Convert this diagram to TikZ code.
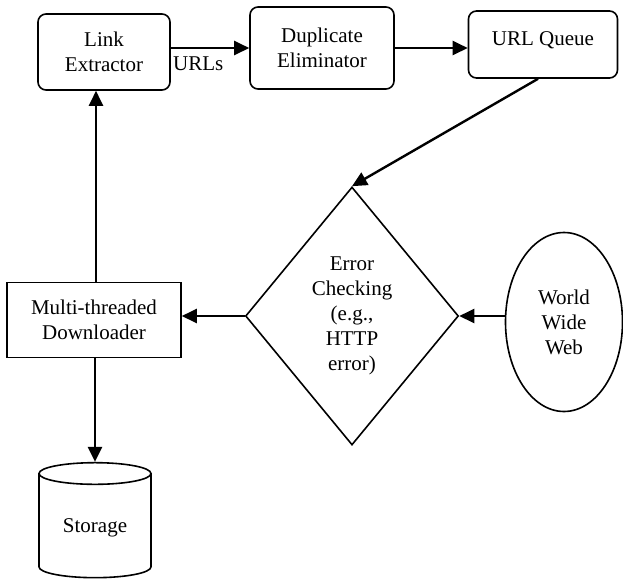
\documentclass[tikz,border=0pt]{standalone}
\usepackage{fontspec}
\setmainfont{Liberation Serif}
\usetikzlibrary{shapes.geometric, arrows.meta}
\tikzset{
  boxAll/.style={draw, line width=0.8pt, align=center, inner sep=2pt,
    font=\fontsize{10.5}{12.5}\selectfont},
  boxRound/.style={rounded corners=4pt},
  flowArrow/.style={-{Triangle[length=7.5pt,width=7pt]}, line width=1.2pt}
}

\begin{document}
\begin{tikzpicture}[x=0.5pt, y=-0.5pt]
  \useasboundingbox (0,0) rectangle (623,585);

  \node[boxAll, boxRound, minimum width=66pt, minimum height=38pt] (linkEx) at (104,52) {Link\\Extractor};
  \node[boxAll, boxRound, minimum width=72pt, minimum height=41pt] (dupElim) at (322,48) {Duplicate\\Eliminator};
  \node[boxAll, boxRound, minimum width=74.5pt, minimum height=33.5pt, text depth=6pt] (urlQueue) at (543,44.5) {URL Queue};
  \node[boxAll, diamond, aspect=0.83, inner sep=0pt, minimum width=106.5pt, minimum height=129pt] (errCheck) at (352,316) {Error\\Checking\\(e.g.,\\HTTP\\error)};
  \node[boxAll, ellipse, inner sep=0pt, minimum width=58.5pt, minimum height=89.5pt] (www) at (564,322) {World\\Wide\\Web};
  \node[boxAll, minimum width=87pt, minimum height=37.5pt] (downloader) at (94,320) {Multi-threaded\\Downloader};
  \node[boxAll, cylinder, shape border rotate=90, aspect=0.3, minimum width=56pt, minimum height=57.5pt] (storage) at (95,528) {Storage};

  \draw[flowArrow] (linkEx.east |- dupElim.west) -- (dupElim.west);
  \node[anchor=north west, inner sep=1pt, font=\fontsize{10.5}{12.5}\selectfont] (urlsLbl) at (linkEx.east |- 0,54) {URLs};
  \draw[flowArrow] (dupElim.east) -- (dupElim.east -| urlQueue.west);
  \draw[flowArrow] ([xshift=-2.5pt]urlQueue.south) -- (errCheck.north);
  \draw[flowArrow] (errCheck.east -| www.west) -- (errCheck.east);
  \draw[flowArrow] (errCheck.west) -- (errCheck.west -| downloader.east);
  \draw[flowArrow] ([xshift=1pt]downloader.north) -- ([xshift=1pt]downloader.north |- linkEx.south);
  \draw[flowArrow] (downloader.south -| storage.north) -- (storage.north);
\end{tikzpicture}
\end{document}
